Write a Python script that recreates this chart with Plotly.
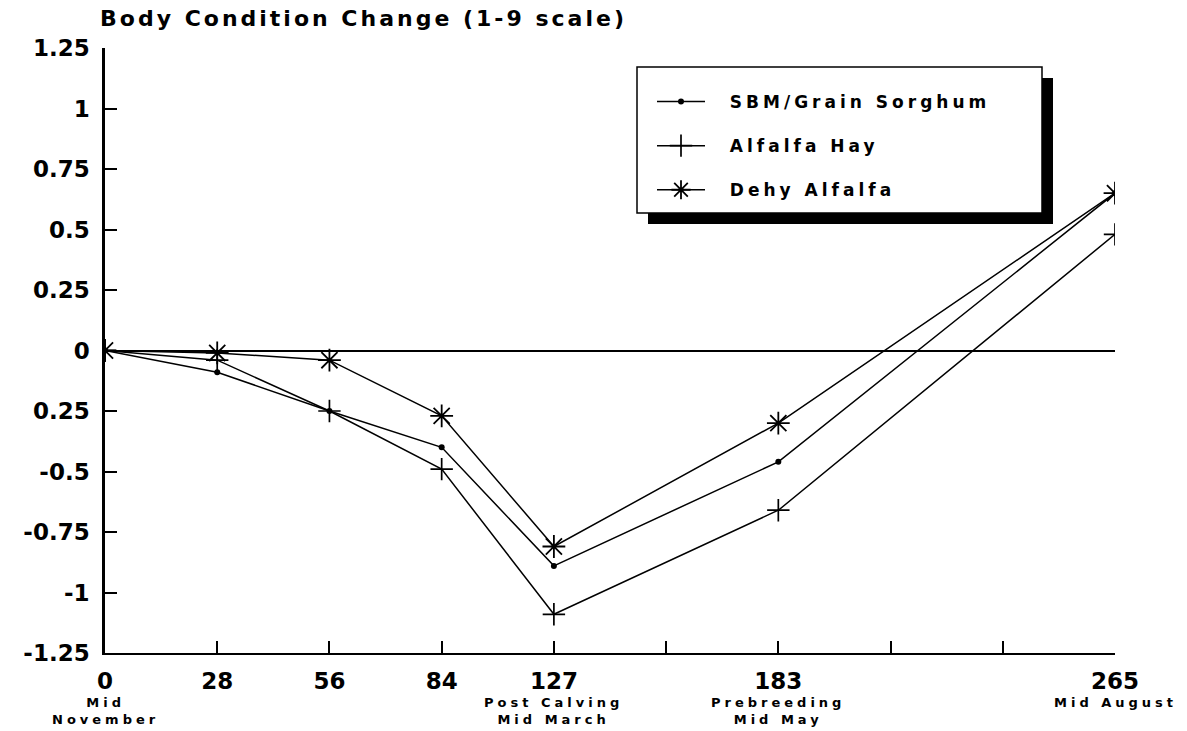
import plotly.graph_objects as go

# ---------------- data ----------------
axis_slots = ["0", "28", "56", "84", "127", "", "183", "", "", "265"]
days = [0, 28, 56, 84, 127, 183, 265]
sub_labels = {0: "Mid<br>November", 127: "Post Calving<br>Mid March",
              183: "Prebreeding<br>Mid May", 265: "Mid August"}

series_names = ["SBM/Grain Sorghum", "Alfalfa Hay", "Dehy Alfalfa"]
sbm = [0, -0.09, -0.25, -0.40, -0.89, -0.46, 0.65]
alfalfa_hay = [0, -0.04, -0.25, -0.49, -1.09, -0.66, 0.48]
dehy_alfalfa = [0, -0.01, -0.04, -0.27, -0.81, -0.30, 0.65]

y_tickvals = [1.25, 1, 0.75, 0.5, 0.25, 0, -0.25, -0.5, -0.75, -1, -1.25]
y_ticktext = ["1.25", "1", "0.75", "0.5", "0.25", "0", "0.25", "-0.5", "-0.75", "-1", "-1.25"]

title_text = "Body Condition Change (1-9 scale)"

# ---------------- layout helpers ----------------
W, H = 1187, 731
L, R, T, B = 105, 72, 48, 78
PW, PH = W - L - R, H - T - B


def px(xp):
    return (xp - L) / PW


def py(yp):
    return (H - B - yp) / PH


x_pos = [axis_slots.index(str(d)) for d in days]
FONT = "DejaVu Sans"

fig = go.Figure()
styles = [
    dict(symbol="circle", size=6, color="black"),
    dict(symbol="cross-thin-open", size=16, color="black", line=dict(width=1.7, color="black")),
    dict(symbol="asterisk-open", size=19, color="black", line=dict(width=1.8, color="black")),
]
for name, vals, mk in zip(series_names, [sbm, alfalfa_hay, dehy_alfalfa], styles):
    fig.add_trace(go.Scatter(
        x=x_pos, y=vals, mode="lines+markers",
        name=f'<span style="letter-spacing:4px">\u00a0\u00a0{name}</span>',
        legendgroup=name,
        line=dict(color="black", width=1.5),
        marker=mk,
    ))

# legend box with drop shadow
fig.add_shape(type="rect", xref="paper", yref="paper",
              x0=px(648), x1=px(1053), y0=py(224), y1=py(78),
              fillcolor="black", line=dict(width=0), layer="above")
fig.add_shape(type="rect", xref="paper", yref="paper",
              x0=px(637), x1=px(1042), y0=py(213), y1=py(67),
              fillcolor="white", line=dict(width=1.5, color="black"), layer="above")

# sub labels under x ticks
for d, txt in sub_labels.items():
    fig.add_annotation(
        x=axis_slots.index(str(d)), xref="x", y=0, yref="paper",
        yanchor="top", yshift=-40, showarrow=False,
        text=f'<span style="letter-spacing:4px">{txt}</span>',
        font=dict(family=FONT, size=13, color="black", weight="bold"),
        align="center",
    )

fig.update_layout(
    width=W, height=H,
    margin=dict(l=L, r=R, t=T, b=B, pad=0),
    paper_bgcolor="white", plot_bgcolor="white",
    showlegend=True,
    title=dict(
        text=f'<span style="letter-spacing:3px">{title_text}</span>',
        x=100 / W, xanchor="left", xref="container",
        y=1 - 11 / H, yanchor="top", yref="container",
        font=dict(family=FONT, size=22, color="black", weight="bold"),
    ),
    legend=dict(
        x=px(652), y=py(84), xanchor="left", yanchor="top",
        bgcolor="rgba(0,0,0,0)", borderwidth=0,
        font=dict(family=FONT, size=17, color="black", weight="bold"),
        itemwidth=48, tracegroupgap=19, traceorder="grouped",
    ),
    xaxis=dict(
        range=[0, 9], tickmode="array",
        tickvals=list(range(len(axis_slots))), ticktext=axis_slots,
        ticks="inside", ticklen=12, tickwidth=1.5, tickcolor="black",
        showline=True, linecolor="black", linewidth=2,
        showgrid=False, zeroline=False, ticklabelstandoff=6,
        tickfont=dict(family=FONT, size=23, color="black", weight="bold"),
    ),
    yaxis=dict(
        range=[-1.25, 1.25], tickmode="array",
        tickvals=y_tickvals, ticktext=y_ticktext,
        ticks="inside", ticklen=12, tickwidth=1.5, tickcolor="black",
        showline=True, linecolor="black", linewidth=2.5,
        showgrid=False, zeroline=True, zerolinecolor="black", zerolinewidth=1.5,
        ticklabelstandoff=8,
        tickfont=dict(family=FONT, size=23, color="black", weight="bold"),
    ),
)

fig.write_html("out.html", config={"displayModeBar": False},
               post_script="document.body.style.margin='0';")
